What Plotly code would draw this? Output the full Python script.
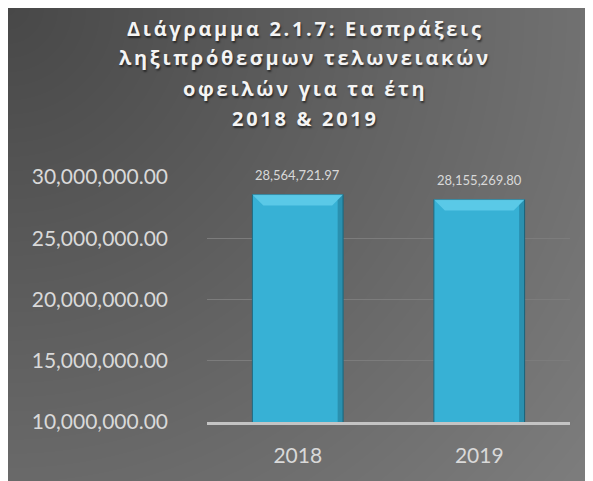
import base64
import math
import struct
import zlib

import plotly.graph_objects as go

# ---- data ----
years = ["2018", "2019"]
values = [28564721.97, 28155269.80]
y_ticks = [10000000, 15000000, 20000000, 25000000, 30000000]
title_lines = [
    "Διάγραμμα 2.1.7: Εισπράξεις",
    "ληξιπρόθεσμων τελωνειακών",
    "οφειλών για τα έτη",
    "2018 & 2019",
]

# ---- figure geometry (pixels, figure coordinates) ----
FIG_W, FIG_H = 593, 481
M_L, M_R, M_T, M_B = 199, 31, 169, 67
PW = FIG_W - M_L - M_R
PH = FIG_H - M_T - M_B
BAR_W = 0.5  # fraction of category width (bargap 0.5)


def px_x(px):
    return (px - M_L) / PW


def px_y(py):
    return (FIG_H - M_B - py) / PH


def png_chunk(tag, data):
    return (struct.pack(">I", len(data)) + tag + data
            + struct.pack(">I", zlib.crc32(tag + data) & 0xFFFFFFFF))


def gradient_png(w, h, dark, light):
    diag = math.hypot(w, h)
    rows = []
    for yy in range(h):
        row = bytearray([0])
        for xx in range(w):
            d = math.hypot(xx, yy) / diag
            row.append(int(round(dark + (light - dark) * d)))
        rows.append(bytes(row))
    raw = b"".join(rows)
    png = (b"\x89PNG\r\n\x1a\n"
           + png_chunk(b"IHDR", struct.pack(">IIBBBBB", w, h, 8, 0, 0, 0, 0))
           + png_chunk(b"IDAT", zlib.compress(raw, 9))
           + png_chunk(b"IEND", b""))
    return "data:image/png;base64," + base64.b64encode(png).decode()


bg_src = gradient_png(FIG_W, FIG_H, 72, 126)

fig = go.Figure()
fig.add_trace(go.Bar(
    x=years,
    y=values,
    marker=dict(color="#37b1d5", line=dict(color="#1d6a82", width=1)),
    hoverinfo="x+y",
))

# bevel highlight on the top of each bar (derived from the data values)
y_per_px = (y_ticks[-1] - y_ticks[0]) / PH
x_per_px = 1.0 / (PW / len(years))
bev_y = 11 * y_per_px
bev_x = 11 * x_per_px
shapes = []
for i, v in enumerate(values):
    x0, x1 = i - BAR_W / 2, i + BAR_W / 2
    shapes.append(dict(
        type="path", xref="x", yref="y", layer="above",
        path=(f"M {x0},{v} L {x1},{v} L {x1 - bev_x},{v - bev_y} "
              f"L {x0 + bev_x},{v - bev_y} Z"),
        fillcolor="rgba(120,220,245,0.55)", line=dict(width=0),
    ))
    shapes.append(dict(
        type="path", xref="x", yref="y", layer="above",
        path=(f"M {x1},{v} L {x1},{y_ticks[0]} L {x1 - bev_x * 0.5},{y_ticks[0]} "
              f"L {x1 - bev_x * 0.5},{v - bev_y * 0.5} Z"),
        fillcolor="rgba(10,60,80,0.28)", line=dict(width=0),
    ))

label_font = dict(family="Lato", size=13, color="#d9d9d9")
for i, v in enumerate(values):
    fig.add_annotation(
        x=i, y=v, xref="x", yref="y",
        text=f"{v:,.2f}", showarrow=False,
        yanchor="bottom", yshift=10,
        font=label_font,
    )

title_font = dict(family="Open Sans", size=20, color="#f4f4f4", weight="bold",
                  shadow="1px 2px 2px rgba(0,0,0,0.55)")
title_centers = [20, 50, 80, 110]
for line, cy in zip(title_lines, title_centers):
    fig.add_annotation(
        x=px_x(297), y=px_y(cy), xref="paper", yref="paper",
        text=f'<span style="letter-spacing:2.7px">{line}</span>',
        showarrow=False,
        xanchor="center", yanchor="middle",
        font=title_font,
    )

fig.update_layout(
    width=FIG_W, height=FIG_H,
    margin=dict(l=M_L, r=M_R, t=M_T, b=M_B, autoexpand=False),
    paper_bgcolor="white",
    plot_bgcolor="rgba(0,0,0,0)",
    showlegend=False,
    bargap=1 - BAR_W,
    shapes=shapes,
    images=[dict(
        source=bg_src, xref="paper", yref="paper",
        x=px_x(0), y=px_y(0),
        sizex=FIG_W / PW, sizey=FIG_H / PH,
        xanchor="left", yanchor="top", sizing="stretch", layer="below",
    )],
    xaxis=dict(
        type="category",
        range=[-0.5, len(years) - 0.5],
        showline=True, linecolor="#c4c4c4", linewidth=2.5,
        showgrid=False, ticks="",
        tickfont=dict(family="Lato", size=21, color="#d9d9d9"),
        ticklabelstandoff=13,
    ),
    yaxis=dict(
        range=[y_ticks[0], y_ticks[-1]],
        tickvals=y_ticks,
        tickformat=",.2f",
        showgrid=True, gridcolor="#7c7c7c", gridwidth=1,
        zeroline=False, showline=False, ticks="",
        tickfont=dict(family="Lato", size=21, color="#d9d9d9"),
        ticklabelstandoff=38,
    ),
)

fig.write_html("out.html")
